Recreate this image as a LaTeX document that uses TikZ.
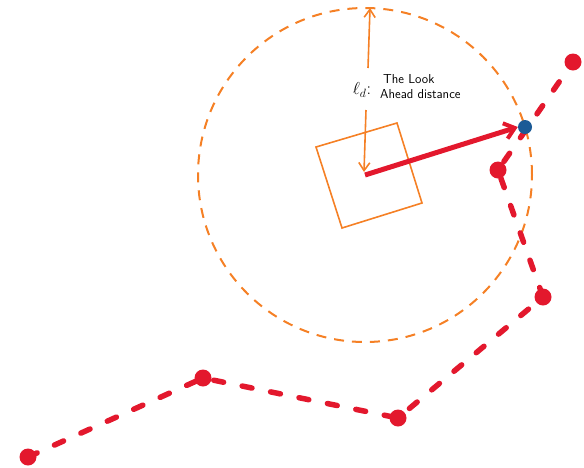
\documentclass[tikz,border=0pt]{standalone}
\usetikzlibrary{arrows.meta}
\definecolor{pathred}{HTML}{E3182D}
\definecolor{circorange}{HTML}{F58025}
\definecolor{dotblue}{HTML}{1B5A96}
\begin{document}
\begin{tikzpicture}[x=1pt,y=-1pt,
  wp/.style={circle,fill=pathred,inner sep=0pt,minimum size=17pt},
  pathseg/.style={draw=pathred,line width=5.5pt,dash pattern=on 10pt off 19pt,line cap=round},
  ring/.style={draw=circorange,line width=2pt,dash pattern=on 10pt off 8pt},
  orangeline/.style={draw=circorange,line width=1.6pt},
  lookarrow/.style={draw=pathred,line width=5pt,-{Straight Barb[length=10pt,width=16pt,line width=4pt]}},
  txt/.style={font=\sffamily\fontsize{13}{15.5}\selectfont,align=left,inner sep=0pt}]
\useasboundingbox (0,0) rectangle (584,467);
% look-ahead circle
\coordinate (c) at (365,175);
\draw[ring] (c) circle[radius=167pt];
% vehicle
\draw[orangeline] (316,147) -- (397,123) -- (422,203) -- (342,228) -- cycle;
% path waypoints
\node[wp] (p1) at (28,457) {};
\node[wp] (p2) at (203,378) {};
\node[wp] (p3) at (398,418) {};
\node[wp] (p4) at (543,297) {};
\node[wp] (p5) at (498,170) {};
\node[wp] (p6) at (573,62) {};
\draw[pathseg] (p1.center) -- (p2.center) -- (p3.center) -- (p4.center) -- (p5.center) -- (p6.center);
% goal point
\node[circle,fill=dotblue,inner sep=0pt,minimum size=14pt] (g) at (525,127) {};
% look-ahead vector
\draw[lookarrow] (c) -- (g.west);
% look-ahead distance arrow
\coordinate (top) at (370,8);
\coordinate (t1) at (368,68);
\coordinate (b1) at (366,110);
\coordinate (bot) at (364,172);
\draw[orangeline,{Straight Barb[length=8pt,width=11pt]}-] (top) -- (t1);
\draw[orangeline,-{Straight Barb[length=8pt,width=11pt]}] (b1) -- (bot);
% label
\node[font=\fontsize{18}{18}\selectfont,inner sep=0pt] (ld) at (362,90) {$\ell_{d}$:};
\node[txt,anchor=north west] (lbl) at (383,74) {The Look\\\hspace*{-3pt}Ahead distance};
\end{tikzpicture}
\end{document}
